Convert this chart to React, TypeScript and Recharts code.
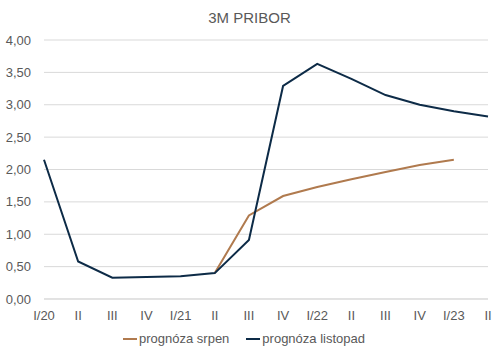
import React from "react";
import { LineChart, Line, XAxis, YAxis, CartesianGrid, Legend } from "recharts";

const categories = ["I/20", "II", "III", "IV", "I/21", "II", "III", "IV", "I/22", "II", "III", "IV", "I/23", "II"];
const srpen: (number | null)[] = [null, null, null, null, null, 0.40, 1.29, 1.59, 1.73, 1.85, 1.96, 2.07, 2.15, null];
const listopad: (number | null)[] = [2.15, 0.58, 0.33, 0.34, 0.35, 0.40, 0.91, 3.29, 3.63, 3.40, 3.15, 3.00, 2.90, 2.82];
const yTicks = [0, 0.5, 1, 1.5, 2, 2.5, 3, 3.5, 4];

const data = categories.map((c, i) => ({ key: i, cat: c, srpen: srpen[i], listopad: listopad[i] }));

const BROWN = "#B07A4E";
const NAVY = "#0D2B47";
const TEXT = "#595959";
const FONT = "'Liberation Sans', Arial, sans-serif";

const fmt = (v: number) => v.toFixed(2).replace(".", ",");

const LegendContent = () => (
  <div style={{ display: "flex", justifyContent: "center", fontFamily: FONT, fontSize: 13, color: TEXT, paddingLeft: 0 }}>
    {[
      { name: "prognóza srpen", color: BROWN },
      { name: "prognóza listopad", color: NAVY },
    ].map((it, i) => (
      <div key={i} style={{ display: "flex", alignItems: "center", marginRight: i === 0 ? 17 : 0 }}>
        <span style={{ display: "inline-block", width: 14, height: 2, background: it.color, marginRight: 2 }} />
        <span>{it.name}</span>
      </div>
    ))}
  </div>
);

export default function App() {
  return (
    <div style={{ position: "absolute", left: 0, top: 0, width: 501, height: 357, background: "#fff" }}>
      <div
        style={{
          position: "absolute",
          left: 0,
          top: 9,
          width: 499,
          textAlign: "center",
          fontFamily: FONT,
          fontSize: 15,
          color: TEXT,
          lineHeight: "18px",
        }}
      >
        3M PRIBOR
      </div>
      <LineChart width={501} height={357} data={data} margin={{ top: 40, right: 13, left: 0, bottom: 11 }}>
        <CartesianGrid vertical={false} stroke="#D9D9D9" strokeWidth={1} />
        <XAxis
          dataKey="key"
          tickFormatter={(v: number) => categories[v]}
          interval={0}
          axisLine={{ stroke: "#D9D9D9" }}
          tickLine={false}
          tickMargin={6}
          tick={{ fill: TEXT, fontSize: 13, fontFamily: FONT }}
          height={32}
        />
        <YAxis
          domain={[0, 4]}
          ticks={yTicks}
          tickFormatter={fmt}
          axisLine={false}
          tickLine={false}
          tickMargin={7}
          width={44}
          tick={{ fill: TEXT, fontSize: 13, fontFamily: FONT }}
        />
        <Legend verticalAlign="bottom" content={<LegendContent />} />
        <Line
          type="linear"
          dataKey="srpen"
          stroke={BROWN}
          strokeWidth={2}
          dot={false}
          isAnimationActive={false}
        />
        <Line
          type="linear"
          dataKey="listopad"
          stroke={NAVY}
          strokeWidth={2}
          dot={false}
          isAnimationActive={false}
        />
      </LineChart>
    </div>
  );
}
